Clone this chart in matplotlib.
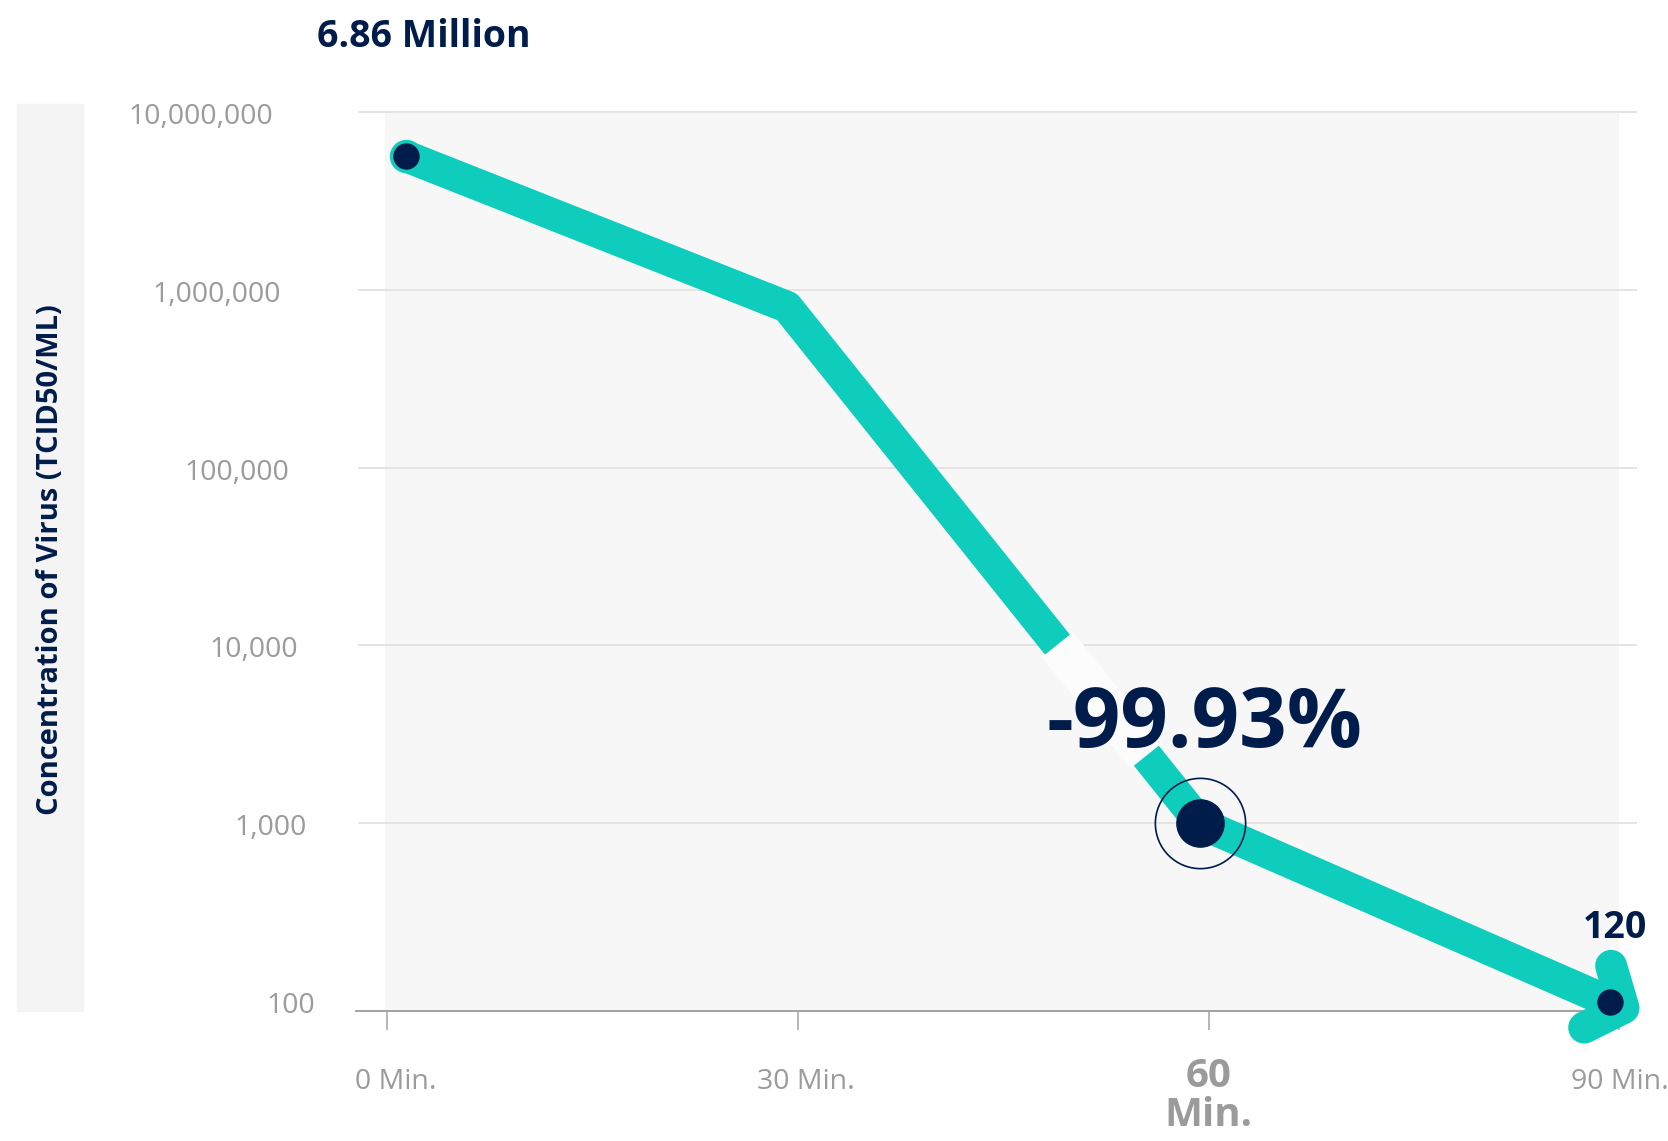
import numpy as np
import matplotlib
matplotlib.use("Agg")
import matplotlib.pyplot as plt
import matplotlib.transforms as mtransforms
from matplotlib.patches import Rectangle
from matplotlib.ticker import NullLocator

plt.rcParams['font.family'] = ['Open Sans', 'DejaVu Sans']

# values
minutes = [1.4, 29.2, 59.4, 89.3]
virus = [5.6e6, 8.0e5, 1.0e3, 99]
tick_minutes = [0, 30, 60, 90]
tick_names = ['0 Min.', '30 Min.', '60\nMin.', '90 Min.']
highlight = 2  # the "60 Min." label is bold
conc_ticks = [1e7, 1e6, 1e5, 1e4, 1e3, 1e2]
conc_names = ['10,000,000', '1,000,000', '100,000', '10,000', '1,000', '100']
start_label = '6.86 Million'
end_label = '120'
drop_label = '-99.93%'
y_title = 'Concentration of Virus (TCID50/ML)'

teal = '#0ecdbd'
navy = '#001c4a'
grey_txt = '#9b9b9b'

W, H = 1668, 1141
fig = plt.figure(figsize=(W / 100, H / 100), dpi=100)
ax = fig.add_axes([385 / W, (H - 1011.3) / H, 1234.4 / W, 899.6 / H])
ax.set_facecolor('#f7f7f7')
ax.set_yscale('log')
ax.set_xlim(-0.17, 90)
ax.set_ylim(87.8, 1e7)
for s in ax.spines.values():
    s.set_visible(False)

# grey band behind the y title
fig.add_artist(Rectangle((17 / W, (H - 1011) / H), 66 / W, 907 / H,
                         transform=fig.transFigure, color='#f4f4f4', zorder=0))
fig.text(51 / W, 1 - 560 / H, y_title, rotation=90, ha='center', va='center',
         fontsize=21, fontweight='bold', color=navy)
fig.text(317 / W, 1 - 47 / H, start_label, ha='left', va='baseline',
         fontsize=27, fontweight='bold', color=navy)

# grid and base line, running a little past the plot area
for v in conc_ticks[:-1]:
    ax.axhline(v, xmin=-0.021, xmax=1.0138, color='#e2e2e2', lw=1.3,
               clip_on=False, zorder=1)
ax.plot([-0.0235, 1.0138], [0, 0], transform=ax.transAxes, color='#9a9a9a',
        lw=1.3, clip_on=False, zorder=1)

ax.set_xticks(tick_minutes)
ax.set_xticklabels([])
ax.tick_params(axis='x', length=14, width=1.2, color='#aaaaaa', direction='out')
ax.set_yticks([])
ax.yaxis.set_minor_locator(NullLocator())

# y labels, slightly staggered like the original
for i, (v, name) in enumerate(zip(conc_ticks, conc_names)):
    tr = mtransforms.offset_copy(ax.get_yaxis_transform(), fig=fig,
                                 x=-112 + 8.4 * i, y=-5, units='dots')
    ax.text(0, v, name, transform=tr, ha='right', va='center',
            fontsize=20.5, color=grey_txt)

for i, (m, name) in enumerate(zip(tick_minutes, tick_names)):
    if i == highlight:
        ax.text(m, -0.094, name, transform=ax.get_xaxis_transform(), ha='center',
                va='center', fontsize=29, fontweight='bold', color=grey_txt,
                linespacing=1.0)
    else:
        shift = 8 if i < highlight else 0
        tr = mtransforms.offset_copy(ax.get_xaxis_transform(), fig=fig,
                                     x=shift, y=0, units='dots')
        ax.text(m, -0.0786, name, transform=tr, ha='center', va='center',
                fontsize=20.5, color=grey_txt)

lw = 23  # ~32 px


def along(i, t):
    # point at fraction t of segment i, straight on the log axis
    x = minutes[i] + t * (minutes[i + 1] - minutes[i])
    ly = np.log10(virus[i]) + t * (np.log10(virus[i + 1]) - np.log10(virus[i]))
    return x, 10 ** ly


gx1, gy1 = along(1, 0.654)
gx2, gy2 = along(1, 0.869)

ax.plot(minutes[:2] + [gx1], virus[:2] + [gy1], color=teal, lw=lw,
        solid_capstyle='butt', solid_joinstyle='round', zorder=3, clip_on=False)
ax.plot(minutes[0], virus[0], 'o', ms=lw, color=teal, zorder=3, clip_on=False)
ax.plot([gx1, gx2], [gy1, gy2], color='#fcfcfc', lw=29, solid_capstyle='butt',
        zorder=2)
ax.plot([gx2] + minutes[2:], [gy2] + virus[2:], color=teal, lw=lw,
        solid_capstyle='butt', solid_joinstyle='round', zorder=3, clip_on=False)

# arrow head, built in pixel space from the last segment
p_mid = ax.transData.transform((minutes[-2], virus[-2]))
p_end = ax.transData.transform((minutes[-1], virus[-1]))
d = (p_end - p_mid) / np.hypot(*(p_end - p_mid))
tip = p_end + 15 * d
head = []
for ang in (50, -50):
    a = np.radians(ang)
    rot = np.array([[np.cos(a), -np.sin(a)], [np.sin(a), np.cos(a)]])
    head.append(tip + 44 * (rot @ -d))
head_pts = ax.transData.inverted().transform(np.array([head[0], tip, head[1]]))
ax.plot(head_pts[:, 0], head_pts[:, 1], color=teal, lw=lw, solid_capstyle='round',
        solid_joinstyle='round', zorder=3, clip_on=False)

ax.plot([minutes[0], minutes[-1]], [virus[0], virus[-1]], 'o', ms=18, color=navy,
        zorder=4, clip_on=False)
ax.plot(minutes[2], virus[2], 'o', ms=34, color=navy, zorder=4)
ax.plot(minutes[2], virus[2], 'o', ms=65, mfc='none', mec=navy, mew=1.2, zorder=4)

ax.text(0.5355, 0.2938, drop_label, transform=ax.transAxes, ha='left',
        va='baseline', fontsize=60, fontweight='bold', color=navy, zorder=5)
ax.text(0.9964, 0.0815, end_label, transform=ax.transAxes, ha='center',
        va='baseline', fontsize=27, fontweight='bold', color=navy, zorder=5)

fig.savefig('out.png', dpi=100)
